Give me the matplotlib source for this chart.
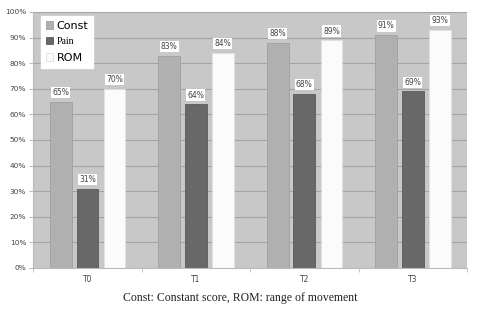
import numpy as np
import matplotlib.pyplot as plt

times = ["T0", "T1", "T2", "T3"]
const = [65, 83, 88, 91]
pain = [31, 64, 68, 69]
rom = [70, 84, 89, 93]
yticks = [0, 10, 20, 30, 40, 50, 60, 70, 80, 90, 100]


def label_bars(ax, bars, vals):
    for b, v in zip(bars, vals):
        ax.text(b.get_x() + b.get_width() / 2, v + 1.8, "{}%".format(v),
                ha="center", va="bottom", fontsize=5.5, color="#444444",
                bbox=dict(facecolor="white", edgecolor="none", pad=0.8))


def main():
    fig = plt.figure(figsize=(4.8, 3.2), dpi=100)
    ax = fig.add_axes([0.069, 0.1625, 0.904, 0.8])
    ax.set_facecolor("#c8c8c8")

    x = np.arange(len(times))
    w = 0.2
    b1 = ax.bar(x - 0.245, const, w, color="#b0b0b0", edgecolor="#a0a0a0", linewidth=0.6, label="Const", zorder=2)
    b2 = ax.bar(x, pain, w, color="#686868", edgecolor="#5a5a5a", linewidth=0.6, label="Pain", zorder=2)
    b3 = ax.bar(x + 0.25, rom, w, color="#fbfbfb", edgecolor="#e0e0e0", linewidth=0.6, label="ROM", zorder=2)
    label_bars(ax, b1, const)
    label_bars(ax, b2, pain)
    label_bars(ax, b3, rom)

    ax.set_xlim(-0.5, 3.5)
    ax.set_ylim(0, 100)
    ax.set_yticks(yticks)
    ax.set_yticklabels(["{}%".format(t) for t in yticks], fontsize=5.3, color="#444444")
    ax.set_xticks(x)
    ax.set_xticklabels(times, fontsize=5.5, color="#444444")
    ax.set_xticks(np.arange(-0.5, 4, 1), minor=True)
    ax.tick_params(axis="x", which="major", length=0, pad=5)
    ax.tick_params(axis="x", which="minor", length=3, color="#bbbbbb")
    ax.tick_params(axis="y", length=3, color="#bbbbbb", pad=2)
    ax.yaxis.grid(True, color="#a4a4a4", linewidth=0.8, zorder=1)
    ax.set_axisbelow(True)
    for s in ["top", "right"]:
        ax.spines[s].set_visible(False)
    ax.spines["left"].set_color("#bbbbbb")
    ax.spines["bottom"].set_color("#bbbbbb")

    leg = ax.legend(loc="upper left", bbox_to_anchor=(0.012, 0.995), fontsize=8,
                    frameon=True, fancybox=False, edgecolor="white", framealpha=1,
                    handlelength=0.7, handleheight=0.7, handletextpad=0.3,
                    labelspacing=0.55, borderpad=0.45, borderaxespad=0.2)
    leg.get_texts()[1].set_family("Liberation Serif")
    leg.get_texts()[1].set_fontsize(7)

    fig.text(0.5, 0.068, "Const: Constant score, ROM: range of movement",
             ha="center", va="center", fontsize=8.5, family="Liberation Serif", color="#222222")
    plt.savefig("out.png", dpi=100)


if __name__ == "__main__":
    main()
